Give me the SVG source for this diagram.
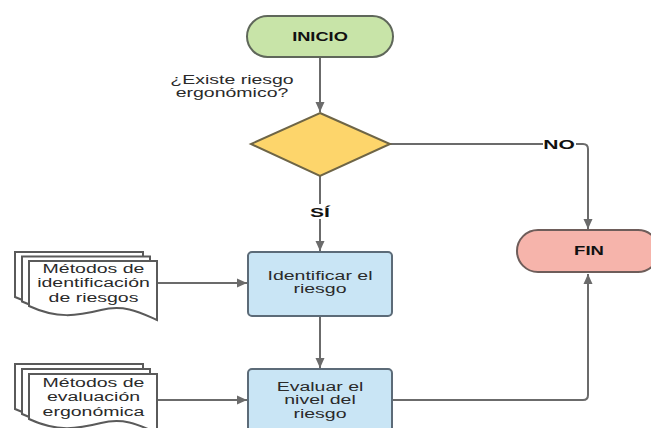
<svg xmlns="http://www.w3.org/2000/svg" width="651" height="428" viewBox="0 0 651 428">
<defs>
<style>
.conn{fill:none;stroke:#6b6b6b;stroke-width:2}
.txt{font-family:"Liberation Sans",Arial,sans-serif;font-size:12.5px;fill:#2a2a2a;text-anchor:middle}
.bold{font-family:"Liberation Sans",Arial,sans-serif;font-weight:bold;font-size:12.5px;fill:#111;text-anchor:middle}
.lbl{font-family:"Liberation Sans",Arial,sans-serif;font-weight:bold;font-size:13px;fill:#111;text-anchor:middle}
.term-start{fill:#c8e4a8;stroke:#5f675a;stroke-width:2}
.term-end{fill:#f6b4ab;stroke:#6e5d5a;stroke-width:2}
.dec{fill:#fdd56b;stroke:#6e6546;stroke-width:2}
.proc{fill:#c9e5f5;stroke:#5c6b78;stroke-width:2}
.doc{fill:#ffffff;stroke:#5a5a5a;stroke-width:2}
</style>
<marker id="arr" viewBox="0 0 10 10" refX="10" refY="5" markerWidth="10" markerHeight="10" markerUnits="userSpaceOnUse" orient="auto">
<path d="M0,0.5 L10,5 L0,9.5 Z" fill="#6b6b6b"/>
</marker>
<path id="sheet" d="M0,0 H128 V59 C112,52 96,43 72,49 C48,55 28,58 0,45 Z"/>
</defs>
<rect width="651" height="428" fill="#ffffff"/>

<g id="connectors">
<path class="conn" d="M320,57 V112" marker-end="url(#arr)"/>
<path class="conn" d="M320,176 V251" marker-end="url(#arr)"/>
<path class="conn" d="M390,144 H583 Q588,144 588,149 V229" marker-end="url(#arr)"/>
<path class="conn" d="M320,316 V368" marker-end="url(#arr)"/>
<path class="conn" d="M157,283 H247" marker-end="url(#arr)"/>
<path class="conn" d="M157,400 H247" marker-end="url(#arr)"/>
<path class="conn" d="M392,400 H583 Q588,400 588,395 V274" marker-end="url(#arr)"/>
<rect x="309" y="204" width="22" height="15" fill="#ffffff"/>
<text class="lbl" transform="translate(320,216.5) scale(1.62,1)">SÍ</text>
<rect x="543" y="136" width="33" height="15" fill="#ffffff"/>
<text class="lbl" transform="translate(559,148.5) scale(1.62,1)">NO</text>
</g>

<g id="inicio">
<rect class="term-start" x="247" y="16" width="146" height="41" rx="20.5"/>
<text class="bold" transform="translate(320,41) scale(1.46,1)">INICIO</text>
</g>

<g id="pregunta">
<text class="txt" transform="translate(232,84) scale(1.56,1)"><tspan x="0">¿Existe riesgo</tspan><tspan x="0" dy="13">ergonómico?</tspan></text>
</g>

<g id="decision">
<polygon class="dec" points="320,113 390,144 320,176 251,144"/>
</g>

<g id="fin">
<rect class="term-end" x="517" y="230" width="142" height="42" rx="21"/>
<text class="bold" transform="translate(589,254.5) scale(1.48,1)">FIN</text>
</g>

<g id="identificar">
<rect class="proc" x="248" y="252" width="144" height="64" rx="4"/>
<text class="txt" transform="translate(320,280) scale(1.56,1)"><tspan x="0">Identificar el</tspan><tspan x="0" dy="13">riesgo</tspan></text>
</g>

<g id="evaluar">
<rect class="proc" x="248" y="369" width="144" height="70" rx="4"/>
<text class="txt" transform="translate(320,391) scale(1.56,1)"><tspan x="0">Evaluar el</tspan><tspan x="0" dy="13.5">nivel del</tspan><tspan x="0" dy="13.5">riesgo</tspan></text>
</g>

<g id="doc-identificacion">
<use href="#sheet" class="doc" x="15" y="252"/>
<use href="#sheet" class="doc" x="22" y="256.5"/>
<use href="#sheet" class="doc" x="29" y="261"/>
<text class="txt" transform="translate(93.5,273) scale(1.56,1)"><tspan x="0">Métodos de</tspan><tspan x="0" dy="14.5">identificación</tspan><tspan x="0" dy="14.5">de riesgos</tspan></text>
</g>

<g id="doc-evaluacion">
<use href="#sheet" class="doc" x="15" y="364"/>
<use href="#sheet" class="doc" x="22" y="369"/>
<use href="#sheet" class="doc" x="29" y="374"/>
<text class="txt" transform="translate(93.5,387) scale(1.56,1)"><tspan x="0">Métodos de</tspan><tspan x="0" dy="14.5">evaluación</tspan><tspan x="0" dy="14.5">ergonómica</tspan></text>
</g>
</svg>
